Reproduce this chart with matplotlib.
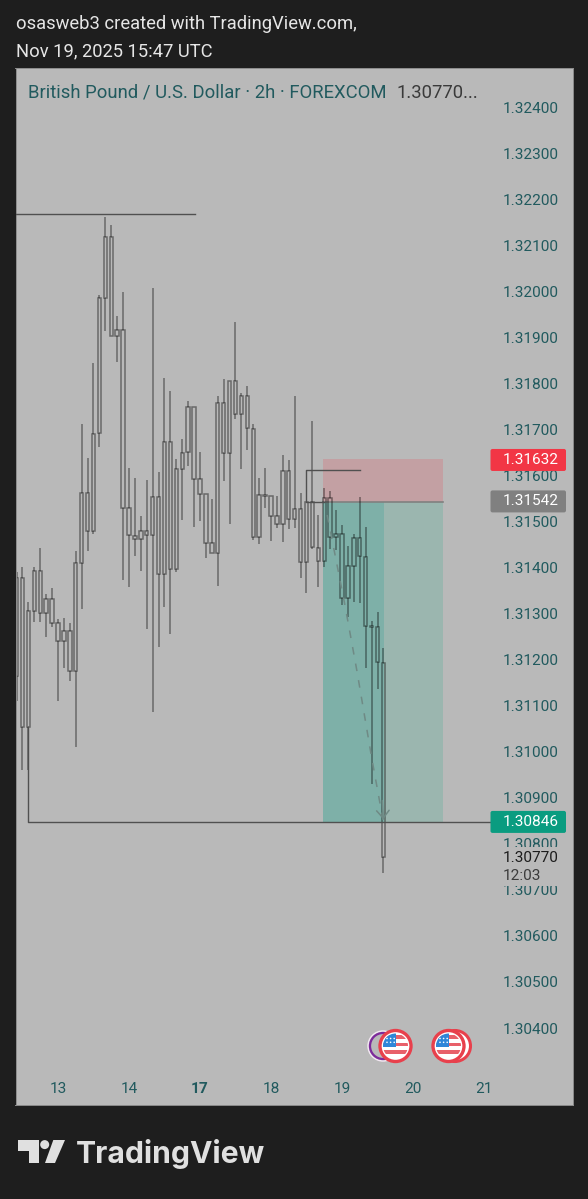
import matplotlib
matplotlib.use('Agg')
import matplotlib.pyplot as plt
from matplotlib.patches import Circle, FancyBboxPatch, Polygon, Rectangle
import numpy as np

plt.rcParams['font.family'] = ['Roboto', 'DejaVu Sans']

# prices in 1e-5 units, one bar every 2h, bar 0 is at the left edge of the chart
highs = [131390, 131401, 131325, 131401, 131442, 131343, 131356, 131288, 131290, 131279,
         131436, 131711, 131638, 131844, 131992, 132161, 132144, 131946, 131998, 131616,
         131594, 131512, 131590, 132007, 131607, 131811, 131783, 131635, 131679, 131761,
         131748, 131651, 131559, 131549, 131772, 131809, 131805, 131933, 131779, 131794,
         131711, 131594, 131616, 131555, 131555, 131644, 131633, 131772, 131562, 131542,
         131718, 131514, 131572, 131566, 131525, 131492, 131446, 131473, 131553, 131488,
         131284, 131303, 131225]
body_tops = [131377, 131377, 131305, 131392, 131392, 131331, 131331, 131279, 131262, 131262,
             131410, 131562, 131562, 131690, 131985, 132118, 132118, 131916, 131916, 131529,
             131468, 131479, 131479, 131553, 131553, 131672, 131672, 131614, 131648, 131748,
             131748, 131592, 131559, 131453, 131757, 131757, 131805, 131805, 131772, 131772,
             131701, 131557, 131557, 131555, 131512, 131609, 131609, 131527, 131527, 131542,
             131542, 131442, 131551, 131551, 131473, 131473, 131403, 131464, 131464, 131423,
             131273, 131271, 131192]
body_bottoms = [131164, 131053, 131053, 131305, 131301, 131301, 131279, 131240, 131240, 131175,
                131175, 131410, 131479, 131479, 131692, 131985, 131903, 131903, 131529, 131470,
                131462, 131462, 131470, 131470, 131386, 131386, 131397, 131397, 131614, 131651,
                131592, 131559, 131453, 131431, 131431, 131648, 131648, 131733, 131733, 131703,
                131466, 131466, 131555, 131512, 131494, 131494, 131505, 131505, 131412, 131412,
                131444, 131414, 131414, 131466, 131466, 131334, 131334, 131403, 131425, 131273,
                131271, 131195, 130771]
lows = [131110, 130960, 130960, 131281, 131281, 131249, 131271, 131110, 131182, 131153,
        131010, 131310, 131436, 131473, 131662, 131913, 131903, 131846, 131373, 131357,
        131425, 131392, 131266, 131086, 131227, 131314, 131255, 131390, 131503, 131620,
        131488, 131501, 131420, 131431, 131360, 131588, 131494, 131722, 131614, 131655,
        131460, 131451, 131529, 131457, 131486, 131455, 131483, 131486, 131377, 131344,
        131440, 131357, 131401, 131440, 131438, 131318, 131292, 131325, 131323, 131182,
        130930, 131136, 130736]

price_ticks = [1.30400, 1.30500, 1.30600, 1.30700, 1.30800, 1.30900, 1.31000, 1.31100, 1.31200, 1.31300,
               1.31400, 1.31500, 1.31600, 1.31700, 1.31800, 1.31900, 1.32000, 1.32100, 1.32200, 1.32300, 1.32400]
day_bars = [7, 19, 31, 43, 55, 67, 79]
day_labels = ['13', '14', '17', '18', '19', '20', '21']

stop_price = 1.31632
entry_price = 1.31542
target_price = 1.30846
last_price = 1.30770
high_line_price = 1.32167
small_line_price = 1.31612
path_bars = [52.5, 55.5, 57.5, 60, 62]
path_prices = [1.31514, 1.31318, 1.31177, 1.30988, 1.30847]

BG = '#1e1e1e'
PANEL = '#b9b9b9'
TEAL_TEXT = '#215a5e'
LINE = '#505050'
CANDLE = (0, 0, 0, 0.43)

highs = np.array(highs) / 1e5
body_tops = np.array(body_tops) / 1e5
body_bottoms = np.array(body_bottoms) / 1e5
lows = np.array(lows) / 1e5
bars = np.arange(len(highs))

fig = plt.figure(figsize=(5.88, 11.99), dpi=100, facecolor=BG)
ax = fig.add_axes([15.5 / 588, 94 / 1199, 557.5 / 588, 1037 / 1199], facecolor=PANEL)
ax.set_xlim(-0.18, 94.04)
ax.set_ylim(1.302328, 1.324847)
for s in ax.spines.values():
    s.set_color('#8c8c8c')
    s.set_linewidth(0.7)

# position tool
ax.add_patch(Rectangle((51.8, entry_price), 20.27, stop_price - entry_price + 0.00003, fc='#c3a0a3', ec='none', zorder=1))
ax.add_patch(Rectangle((51.8, target_price), 10.3, entry_price - target_price, fc='#7eb0a8', ec='none', zorder=1))
ax.add_patch(Rectangle((62.1, target_price), 9.97, entry_price - target_price, fc='#9bb6af', ec='none', zorder=1))
ax.plot([51.8, 72.07], [entry_price, entry_price], color='#808080', lw=1.2, zorder=1.5)

# drawn levels
ax.plot([-0.18, 30.2], [high_line_price, high_line_price], color=LINE, lw=1.0, zorder=3)
ax.plot([2, 2, 80], [1.31053, target_price + 0.00002, target_price + 0.00002], color=LINE, lw=1.0, zorder=3)
ax.plot([58, 49, 49, 52], [small_line_price, small_line_price, entry_price, entry_price], color=LINE, lw=1.0, zorder=3)

# candles are hollow, wick only outside the body
ax.vlines(bars, body_tops, highs, color=CANDLE, lw=1.1, zorder=2)
ax.vlines(bars, lows, body_bottoms, color=CANDLE, lw=1.1, zorder=2)
ax.bar(bars, body_tops - body_bottoms, bottom=body_bottoms, width=0.58, facecolor='none',
       edgecolor=CANDLE, linewidth=1.1, zorder=2)

# projected path
ax.plot(path_bars, path_prices, color='#6f8a85', lw=1.1, ls=(0, (5, 6)), zorder=2.5)
ax.annotate('', xy=(path_bars[-1], path_prices[-1]), xytext=(61.8, 1.30900),
            arrowprops=dict(arrowstyle='->,head_length=0.55,head_width=0.45', color='#6f8a85', lw=1.1))

ax.set_yticks(price_ticks)
ax.set_yticklabels(['%.5f' % p for p in price_ticks])
ax.tick_params(axis='y', left=False, labelleft=False, right=False, labelright=True, pad=-54,
               labelsize=11.1, labelcolor=TEAL_TEXT)
ax.set_xticks(day_bars)
ax.set_xticklabels(day_labels)
ax.tick_params(axis='x', bottom=False, pad=-20, labelsize=11.1, labelcolor=TEAL_TEXT)
ax.get_xticklabels()[2].set_fontweight('bold')

# overlay in image pixels for header, price tags, icons and logo
ov = fig.add_axes([0, 0, 1, 1], facecolor='none')
ov.set_xlim(0, 588)
ov.set_ylim(1199, 0)
ov.axis('off')

ov.text(16, 24, 'osasweb3 created with TradingView.com,', color='#e6e6e6', fontsize=13.25, va='center')
ov.text(16, 51, 'Nov 19, 2025 15:47 UTC', color='#e6e6e6', fontsize=13.25, va='center')
ov.text(28, 92.5, 'British Pound / U.S. Dollar · 2h · FOREXCOM', color=TEAL_TEXT, fontsize=13.3, va='center')
ov.text(397, 92.5, '1.30770...', color='#3a3a3a', fontsize=13.3, va='center')

price_y = lambda p: 107 + (1.324 - p) * 46050
for price, col in [(stop_price, '#f23645'), (entry_price, '#808080'), (target_price, '#0a9c80')]:
    y = price_y(price) - 0.7
    ov.add_patch(FancyBboxPatch((490.5, y - 11), 75.5, 22, boxstyle='round,pad=0,rounding_size=2', fc=col, ec='none'))
    ov.text(503, y, '%.5f' % price, color='white', fontsize=11.1, va='center')

ov.add_patch(Rectangle((500, 847), 66, 39, fc=PANEL, ec='none'))
ov.text(503, 858, '%.5f' % last_price, color='#1c1c1c', fontsize=11.1, va='center')
ov.text(503, 876, '12:03', color='#3c3c3c', fontsize=11.1, va='center')


def flag(cx, cy):
    ov.add_patch(Circle((cx, cy), 15.5, fc='white', ec='#e8404c', lw=2.4))
    clip = Circle((cx, cy), 12.5, fc='white', ec='none')
    ov.add_patch(clip)
    for dy in (-11, -3.5, 4):
        r = Rectangle((cx - 13, cy + dy), 26, 3.6, fc='#e8606a', ec='none')
        ov.add_patch(r)
        r.set_clip_path(clip)
    r = Rectangle((cx - 13, cy - 13), 13, 13.5, fc='#2f86d8', ec='none')
    ov.add_patch(r)
    r.set_clip_path(clip)
    for i in range(3):
        for j in range(2):
            ov.add_patch(Circle((cx - 8.5 + i * 3.6, cy - 7.5 + j * 3.8), 0.8, fc='white', ec='none'))


ov.add_patch(Circle((383, 1046), 15, fc=PANEL, ec='#f4e8f4', lw=1))
ov.add_patch(Circle((383, 1046), 13, fc=PANEL, ec='#7d2a9c', lw=1.6))
flag(395.5, 1046)
ov.add_patch(Circle((455, 1046), 15.5, fc='white', ec='#e8404c', lw=2.2))
flag(448.5, 1046)

# logo
LOGO = '#e0e0e0'
ov.add_patch(Polygon([(18.3, 1140), (39.3, 1140), (39.3, 1163), (29.3, 1163), (29.3, 1150.7), (18.3, 1150.7)], fc=LOGO, ec='none'))
ov.add_patch(Circle((44.7, 1144.6), 4.5, fc=LOGO, ec='none'))
ov.add_patch(Polygon([(53.3, 1140), (65, 1140), (55, 1163), (45, 1163)], fc=LOGO, ec='none'))
ov.text(75.5, 1163, 'TradingView', color=LOGO, fontsize=21.7, family='Inter', fontweight='bold', va='baseline')

fig.savefig('out.png', dpi=100, facecolor=BG)
